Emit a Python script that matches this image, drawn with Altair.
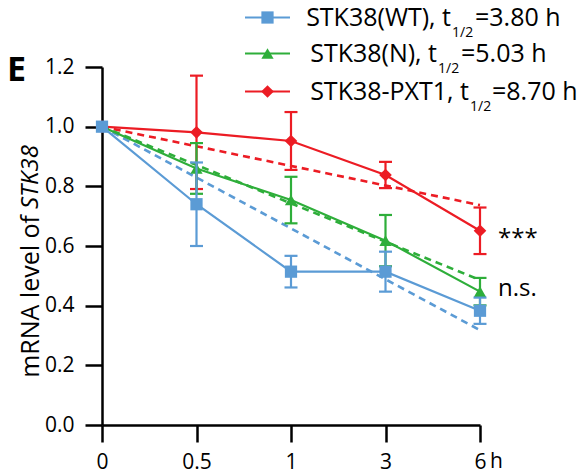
import altair as alt
import pandas as pd

# ---------------- data ----------------
times = ["0", "0.5", "1", "3", "6"]
series = ["STK38(WT)", "STK38(N)", "STK38-PXT1"]
half_lives = ["3.80", "5.03", "8.70"]
colors = ["#5B9BD5", "#2EAE3A", "#EC1C24"]
shapes = ["square", "triangle-up", "diamond"]
sizes = [150, 150, 160]

wt_mean = [1.0, 0.740, 0.514, 0.514, 0.383]
wt_sd = [0.0, 0.140, 0.053, 0.067, 0.044]
n_mean = [1.0, 0.860, 0.754, 0.618, 0.447]
n_sd = [0.0, 0.085, 0.078, 0.086, 0.046]
pxt_mean = [1.0, 0.981, 0.952, 0.838, 0.651]
pxt_sd = [0.0, 0.190, 0.097, 0.044, 0.078]

fit_times = ["0", "6"]
fit_start = [1.0, 1.0, 1.0]
fit_end = [0.318, 0.486, 0.737]

sig_labels = ["***", "n.s."]
sig_y = [0.64, 0.455]

y_ticks = [0.0, 0.2, 0.4, 0.6, 0.8, 1.0, 1.2]
y_title_plain = "mRNA level of"
y_title_italic = "STK38"
panel_label = "E"
unit_label = "h"

means = [wt_mean, n_mean, pxt_mean]
sds = [wt_sd, n_sd, pxt_sd]

W, H = 378, 358
FONT = "Open Sans"
XLAB_PAD = 9

xaxis = alt.Axis(title=None, labelAngle=0, tickSize=17, tickWidth=2.5, domainWidth=2.5,
                 domainColor="black", tickColor="black", labelColor="black",
                 labelFontSize=21, labelFont=FONT, labelPadding=XLAB_PAD, grid=False)
yaxis = alt.Axis(title=None, values=y_ticks, format=".1f", tickSize=17, tickWidth=2.5,
                 domainWidth=2.5, domainColor="black", tickColor="black",
                 labelColor="black", labelFontSize=21, labelFont=FONT,
                 labelPadding=11, grid=False)


def X(field="time"):
    return alt.X(f"{field}:O", sort=times, scale=alt.Scale(type="point", padding=0), axis=xaxis)


def Y(field):
    return alt.Y(f"{field}:Q", scale=alt.Scale(domain=[0, 1.2], nice=False, zero=True), axis=yaxis)


layers = []

# dashed fit lines
for i in [2, 1, 0]:
    fdf = pd.DataFrame({"time": fit_times, "v": [fit_start[i], fit_end[i]]})
    layers.append(
        alt.Chart(fdf).mark_line(color=colors[i], strokeDash=[7, 5], strokeWidth=2.6)
        .encode(x=X(), y=Y("v"))
    )

# series: error bars, lines, points
for i in [2, 1, 0]:
    df = pd.DataFrame({"time": times, "mean": means[i], "sd": sds[i]})
    df["lo"] = df["mean"] - df["sd"]
    df["hi"] = df["mean"] + df["sd"]
    edf = df[df["sd"] > 0]
    c = colors[i]
    layers.append(alt.Chart(edf).mark_rule(color=c, strokeWidth=2.2)
                  .encode(x=X(), y=Y("lo"), y2="hi:Q"))
    layers.append(alt.Chart(edf).mark_tick(color=c, size=13, thickness=2.2, opacity=1)
                  .encode(x=X(), y=Y("lo")))
    layers.append(alt.Chart(edf).mark_tick(color=c, size=13, thickness=2.2, opacity=1)
                  .encode(x=X(), y=Y("hi")))
    layers.append(alt.Chart(df).mark_line(color=c, strokeWidth=2.2)
                  .encode(x=X(), y=Y("mean")))
    layers.append(alt.Chart(df).mark_point(filled=True, opacity=1, color=c,
                                           shape=shapes[i], size=sizes[i])
                  .encode(x=X(), y=Y("mean")))

# significance labels
sdf = pd.DataFrame({"time": ["6", "6"], "lab": sig_labels, "y": sig_y})
layers.append(alt.Chart(sdf.iloc[[0]]).mark_text(align="left", baseline="middle", dx=18, dy=5,
                                                 fontSize=24, font=FONT, color="black")
              .encode(x=X(), y=Y("y"), text="lab:N"))
layers.append(alt.Chart(sdf.iloc[[1]]).mark_text(align="left", baseline="middle", dx=18,
                                                 fontSize=24, font=FONT, color="black")
              .encode(x=X(), y=Y("y"), text="lab:N"))

# unit "h" next to last x label
udf = pd.DataFrame({"time": ["6"], "lab": [unit_label]})
layers.append(alt.Chart(udf).mark_text(align="left", baseline="top", dx=10,
                                       fontSize=21, font=FONT, color="black")
              .encode(x=X(), y=alt.value(H + 17 + XLAB_PAD), text="lab:N"))

# y title (plain + italic)
tdf = pd.DataFrame({"a": [y_title_plain], "b": [y_title_italic]})
layers.append(alt.Chart(tdf).mark_text(angle=270, align="right", baseline="middle",
                                       fontSize=25, font=FONT, color="black")
              .encode(x=alt.value(-71), y=alt.value(148), text="a:N"))
layers.append(alt.Chart(tdf).mark_text(angle=270, align="left", baseline="middle",
                                       fontSize=24, font=FONT, fontStyle="italic", color="black")
              .encode(x=alt.value(-71), y=alt.value(142), text="b:N"))

# panel label
pdf_ = pd.DataFrame({"t": [panel_label]})
layers.append(alt.Chart(pdf_).mark_text(align="right", baseline="middle", fontSize=34,
                                        fontWeight="bold", font=FONT, color="black")
              .encode(x=alt.value(-76), y=alt.value(4), text="t:N"))

# legend (manual)
row_y = [-49.5, -13.5, 24.5]
t_end = [349, 335, 367]
sub_start = [350, 336, 368]
eq_start = [373, 359, 390]
for i in range(3):
    ldf = pd.DataFrame({"p1": [series[i] + ", t"], "p2": ["1/2"],
                        "p3": ["=" + half_lives[i] + " h"]})
    layers.append(alt.Chart(ldf).mark_rule(color=colors[i], strokeWidth=2.2)
                  .encode(x=alt.value(143), x2=alt.value(188), y=alt.value(row_y[i])))
    layers.append(alt.Chart(ldf).mark_point(filled=True, opacity=1, color=colors[i],
                                            shape=shapes[i], size=sizes[i])
                  .encode(x=alt.value(165.5), y=alt.value(row_y[i])))
    layers.append(alt.Chart(ldf).mark_text(align="right", baseline="middle", fontSize=25,
                                           font=FONT, color="black")
                  .encode(x=alt.value(t_end[i]), y=alt.value(row_y[i]), text="p1:N"))
    layers.append(alt.Chart(ldf).mark_text(align="left", baseline="middle", fontSize=14,
                                           font=FONT, color="black")
                  .encode(x=alt.value(sub_start[i]), y=alt.value(row_y[i] + 15), text="p2:N"))
    layers.append(alt.Chart(ldf).mark_text(align="left", baseline="middle", fontSize=25,
                                           font=FONT, color="black")
                  .encode(x=alt.value(eq_start[i]), y=alt.value(row_y[i]), text="p3:N"))

chart = alt.layer(*layers).properties(
    width=W, height=H,
    autosize=alt.AutoSizeParams(type="none"),
    padding={"left": 94, "top": 59, "right": 98, "bottom": 46},
    background="white",
).configure_view(stroke=None).configure_text(font=FONT)

chart.save("out.html", embed_options={"renderer": "svg", "actions": False})
